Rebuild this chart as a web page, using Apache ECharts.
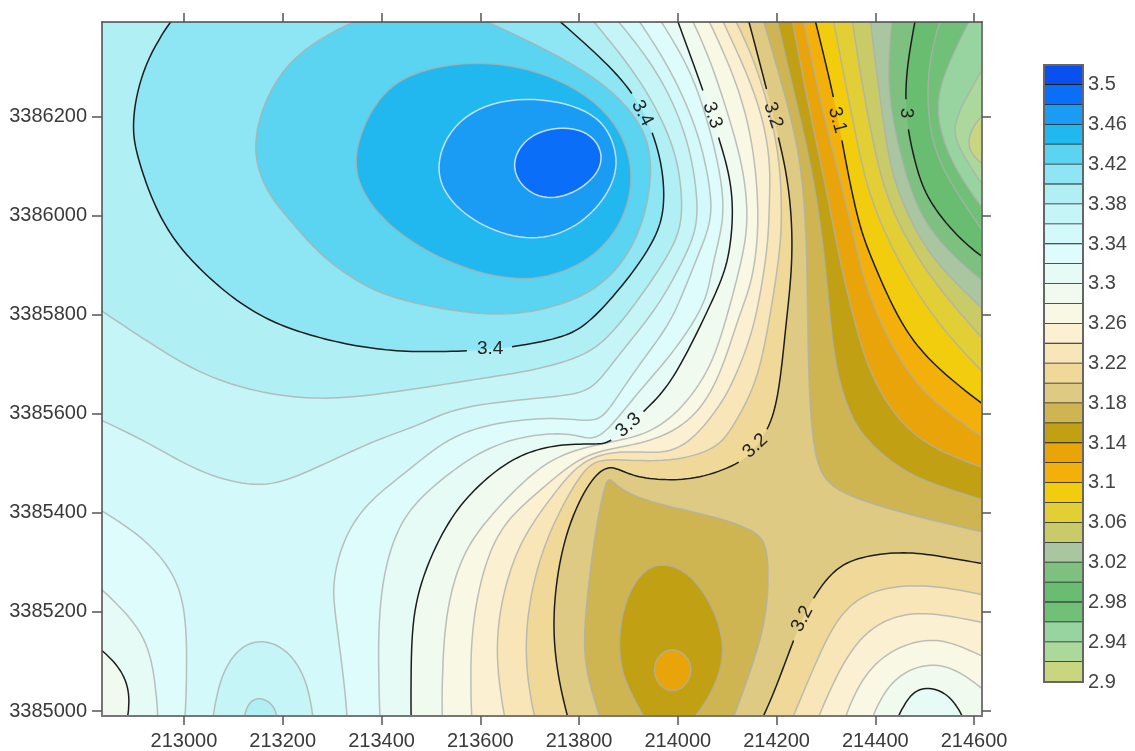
<!DOCTYPE html>
<html>
<head>
<meta charset="utf-8">
<style>html,body{margin:0;padding:0;background:#fff}#c{width:1135px;height:751px}</style>
<script src="https://cdn.jsdelivr.net/npm/echarts@6/dist/echarts.min.js"></script>
</head>
<body>
<div id="c"></div>
<script>
// Axis ticks
const xTicks=[213000,213200,213400,213600,213800,214000,214200,214400,214600];
const yTicks=[3385000,3385200,3385400,3385600,3385800,3386000,3386200];
const legendTicks=[2.9,2.94,2.98,3.02,3.06,3.1,3.14,3.18,3.22,3.26,3.3,3.34,3.38,3.42,3.46,3.5];
// Colour bands: top band first, each 0.02 wide, starting at 3.50
const bandColors=['#0a50f0','#0a6ef8','#1a9cf4','#20b8ee','#5ad4f0','#8ee6f4','#b0eff4','#c6f5f8','#d4f9fb','#defcfb','#e6fbf6','#f0faee','#f8f8e4','#fbf0d2','#f8e6b8','#f0d998','#dfca84','#cfb551','#c2a014','#e8a408','#f4b00a','#f2cd0d','#e2cf35','#c8cb68','#aac6a0','#7dc080','#68bd70','#70c078','#98d4a0','#acd89c','#cad580'];
// Contour lines, easting/northing
const ne318=[[214173,3386395],[214214,3386254],[214242,3386143],[214256,3386032],[214262,3385896],[214264,3385695],[214274,3385527],[214299,3385466],[214349,3385432],[214485,3385392],[214620,3385361]];
const ne316=[[214201,3386395],[214234,3386254],[214260,3386143],[214282,3386032],[214303,3385864],[214315,3385715],[214343,3385614],[214376,3385553],[214445,3385493],[214511,3385460],[214620,3385426]];
const ne314=[[214232,3386395],[214258,3386254],[214284,3386133],[214305,3386032],[214329,3385905],[214364,3385763],[214396,3385668],[214457,3385573],[214538,3385521],[214620,3385491]];
const ne312=[[214254,3386395],[214284,3386254],[214313,3386133],[214339,3386032],[214364,3385925],[214390,3385830],[214445,3385715],[214511,3385628],[214620,3385551]];
const ne310=[[214278,3386395],[214315,3386244],[214333,3386147],[214364,3385991],[214390,3385921],[214445,3385793],[214511,3385703],[214620,3385618]];
const ne308=[[214315,3386395],[214341,3386260],[214364,3386147],[214390,3386032],[214451,3385900],[214528,3385779],[214620,3385682]];
const ne306=[[214353,3386395],[214374,3386260],[214396,3386147],[214424,3386032],[214481,3385921],[214548,3385830],[214620,3385749]];
const ne304=[[214390,3386395],[214400,3386308],[214416,3386193],[214430,3386102],[214453,3386032],[214491,3385951],[214546,3385880],[214620,3385810]];
const ne302=[[214434,3386395],[214426,3386308],[214430,3386228],[214445,3386147],[214477,3386032],[214517,3385965],[214562,3385915],[214620,3385866]];
const ne300=[[214481,3386395],[214465,3386308],[214461,3386234],[214467,3386167],[214485,3386092],[214507,3386032],[214566,3385957],[214620,3385915]];
const ne298=[[214532,3386395],[214507,3386308],[214507,3386193],[214528,3386112],[214568,3386042],[214620,3385965]];
const ne296=[[214592,3386395],[214532,3386274],[214526,3386193],[214558,3386098],[214620,3386012]];
const ne294=[[214620,3386300],[214562,3386199],[214562,3386147],[214620,3386058]];
const ne292=[[214620,3386207],[214596,3386177],[214588,3386147],[214596,3386123],[214620,3386102]];
const bas318=[[213843,3384985],[213819,3385063],[213808,3385143],[213823,3385285],[213837,3385386],[213857,3385472],[213869,3385460],[213924,3385426],[214045,3385400],[214141,3385371],[214173,3385345],[214183,3385305],[214181,3385198],[214153,3385097],[214112,3384985]];
const bas316=[[213934,3384985],[213898,3385048],[213879,3385117],[213889,3385210],[213924,3385279],[213970,3385299],[214019,3385279],[214060,3385230],[214090,3385157],[214090,3385089],[214060,3385022],[214031,3384985]];
const bas314=[[213989,3385127],[214017,3385113],[214029,3385083],[214017,3385052],[213989,3385038],[213962,3385052],[213950,3385083],[213962,3385113]];
const wst320=[[213778,3384985],[213762,3385048],[213748,3385143],[213752,3385250],[213776,3385371],[213823,3385466],[213857,3385493],[213883,3385487],[213918,3385472],[213985,3385466],[214051,3385472],[214131,3385503],[214157,3385533],[214181,3385567],[214201,3385622],[214214,3385729],[214222,3385810],[214234,3385931],[214224,3386068],[214203,3386159],[214183,3386244],[214143,3386395]];
const wst322=[[213711,3384985],[213691,3385089],[213697,3385210],[213727,3385331],[213776,3385432],[213816,3385493],[213857,3385511],[213970,3385501],[214072,3385527],[214106,3385567],[214153,3385648],[214175,3385735],[214191,3385824],[214207,3385931],[214210,3386001],[214207,3386102],[214187,3386209],[214153,3386318],[214116,3386395]];
const wst324=[[213650,3384985],[213634,3385083],[213636,3385184],[213660,3385285],[213695,3385365],[213756,3385446],[213808,3385507],[213883,3385525],[213950,3385521],[214019,3385533],[214086,3385620],[214106,3385654],[214147,3385749],[214167,3385844],[214183,3385945],[214185,3386032],[214187,3386112],[214167,3386217],[214126,3386318],[214090,3386395]];
const wst326=[[213583,3384985],[213579,3385129],[213600,3385264],[213640,3385371],[213707,3385432],[213776,3385493],[213829,3385521],[213883,3385533],[213950,3385547],[214031,3385588],[214086,3385678],[214120,3385789],[214147,3385856],[214159,3385931],[214163,3386001],[214157,3386102],[214137,3386213],[214100,3386314],[214062,3386395]];
const wst328=[[213523,3384985],[213525,3385178],[213559,3385299],[213596,3385365],[213675,3385452],[213742,3385507],[213808,3385531],[213883,3385547],[213944,3385563],[214005,3385608],[214056,3385678],[214086,3385749],[214122,3385880],[214137,3385951],[214141,3386012],[214131,3386102],[214102,3386203],[214066,3386314],[214029,3386395]];
const wst330=[[213460,3384985],[213460,3385129],[213472,3385244],[213525,3385365],[213573,3385432],[213640,3385493],[213707,3385527],[213776,3385539],[213843,3385539],[213869,3385547],[213934,3385608],[213979,3385654],[214025,3385735],[214080,3385850],[214102,3385911],[214112,3385997],[214106,3386078],[214082,3386159],[214056,3386240],[213999,3386395]];
const wst332=[[213397,3384985],[213393,3385129],[213401,3385264],[213438,3385386],[213504,3385452],[213573,3385507],[213654,3385547],[213742,3385561],[213802,3385557],[213843,3385547],[213910,3385634],[213979,3385709],[214039,3385795],[214062,3385850],[214072,3385911],[214092,3385985],[214090,3386058],[214072,3386147],[214045,3386240],[214011,3386320],[213964,3386395]];
const wst334=[[213330,3384985],[213326,3385048],[213306,3385198],[213302,3385258],[213322,3385345],[213371,3385420],[213438,3385472],[213504,3385527],[213573,3385567],[213675,3385588],[213776,3385592],[213837,3385583],[213869,3385622],[213924,3385703],[213979,3385775],[214009,3385840],[214045,3385931],[214070,3385997],[214062,3386072],[214045,3386153],[214011,3386240],[213970,3386320],[213920,3386395]];
const wst336=[[212830,3385588],[212931,3385541],[213032,3385481],[213134,3385456],[213201,3385462],[213302,3385507],[213403,3385553],[213478,3385577],[213539,3385608],[213640,3385624],[213742,3385634],[213802,3385642],[213837,3385662],[213877,3385715],[213938,3385789],[213979,3385850],[214021,3385931],[214041,3385991],[214035,3386072],[214019,3386153],[213985,3386240],[213938,3386320],[213877,3386395]];
const wst338=[[212830,3385810],[212931,3385743],[213032,3385682],[213134,3385648],[213235,3385632],[213336,3385632],[213478,3385652],[213606,3385672],[213707,3385688],[213796,3385713],[213857,3385749],[213934,3385850],[213991,3385937],[214009,3385997],[214005,3386072],[213989,3386147],[213944,3386240],[213889,3386320],[213827,3386395]];
const wst340=[[212976,3386395],[212919,3386308],[212895,3386193],[212903,3386133],[212919,3386078],[212943,3386016],[212976,3385957],[213016,3385909],[213063,3385864],[213113,3385824],[213172,3385789],[213235,3385765],[213316,3385743],[213403,3385729],[213478,3385725],[213583,3385727],[213620,3385731],[213665,3385735],[213764,3385753],[213808,3385777],[213845,3385810],[213902,3385876],[213950,3385947],[213972,3386007],[213970,3386088],[213950,3386167],[213910,3386248],[213843,3386320],[213758,3386395]];
const wst342=[[213353,3386395],[213243,3386341],[213172,3386254],[213140,3386147],[213156,3386078],[213180,3386032],[213215,3385991],[213261,3385937],[213316,3385890],[213383,3385850],[213460,3385824],[213628,3385795],[213750,3385816],[213845,3385856],[213916,3385945],[213944,3386052],[213944,3386127],[213924,3386187],[213859,3386260],[213750,3386328],[213606,3386395]];
const wst344=[[213340,3386119],[213367,3386038],[213425,3385971],[213533,3385905],[213652,3385872],[213735,3385876],[213823,3385911],[213887,3385985],[213910,3386078],[213887,3386167],[213823,3386240],[213713,3386294],[213583,3386312],[213460,3386288],[213389,3386234]];
const wst346=[[213509,3386106],[213533,3386038],[213592,3385985],[213693,3385949],[213786,3385971],[213851,3386032],[213879,3386098],[213865,3386159],[213823,3386213],[213693,3386242],[213561,3386207]];
const wst348=[[213764,3386179],[213823,3386167],[213851,3386117],[213823,3386066],[213750,3386030],[213689,3386052],[213662,3386106],[213699,3386163]];
const se320=[[214171,3384985],[214197,3385042],[214234,3385143],[214252,3385184],[214272,3385224],[214315,3385285],[214370,3385311],[214451,3385321],[214517,3385315],[214620,3385297]];
const se322=[[214232,3384985],[214282,3385103],[214329,3385198],[214396,3385244],[214477,3385254],[214552,3385248],[214620,3385234]];
const se324=[[214284,3384985],[214329,3385089],[214384,3385164],[214451,3385194],[214517,3385198],[214620,3385178]];
const se326=[[214339,3384985],[214370,3385063],[214430,3385123],[214505,3385145],[214558,3385137],[214620,3385109]];
const se328=[[214394,3384985],[214430,3385063],[214505,3385097],[214566,3385083],[214620,3385042]];
const se330=[[214445,3384985],[214471,3385036],[214507,3385048],[214552,3385032],[214578,3384985]];
const sw334=[[212830,3385406],[212917,3385351],[212978,3385279],[213008,3385184],[213002,3384985]];
const sw332=[[212830,3385248],[212897,3385184],[212937,3385109],[212947,3384985]];
const sw330=[[212830,3385125],[212870,3385089],[212891,3385036],[212885,3384985]];
const is336=[[213059,3384985],[213073,3385069],[213113,3385129],[213160,3385143],[213209,3385123],[213249,3385063],[213261,3384985]];
const is338=[[213122,3384985],[213130,3385018],[213158,3385028],[213184,3385008],[213188,3384985]];
// Corners outside the frame used to close an open contour into a filled region
const outNE=[[214700,3386500]], outSE=[[214700,3384900]], outSW=[[212700,3384900]], outNW=[[212700,3386500]];
const outW=[[212700,3386500],[212700,3384900]];
// Paint order: [points, level, side(+1 fills band above the level, -1 band below), closing corners, closed ring]
const layers=[
 [ne318,3.18,-1,outNE],[ne316,3.16,-1,outNE],[ne314,3.14,-1,outNE],[ne312,3.12,-1,outNE],[ne310,3.10,-1,outNE],
 [ne308,3.08,-1,outNE],[ne306,3.06,-1,outNE],[ne304,3.04,-1,outNE],[ne302,3.02,-1,outNE],[ne300,3.00,-1,outNE],
 [ne298,2.98,-1,outNE],[ne296,2.96,-1,outNE],[ne294,2.94,-1,[]],[ne292,2.92,-1,[]],
 [bas318,3.18,-1,[]],[bas316,3.16,-1,[]],[bas314,3.14,-1,[],true],
 [se320,3.20,1,outSE],[se322,3.22,1,outSE],[se324,3.24,1,outSE],[se326,3.26,1,outSE],[se328,3.28,1,outSE],[se330,3.30,1,[]],
 [wst320,3.20,1,outW],[wst322,3.22,1,outW],[wst324,3.24,1,outW],[wst326,3.26,1,outW],[wst328,3.28,1,outW],
 [wst330,3.30,1,outW],[wst332,3.32,1,outW],[wst334,3.34,1,outW],
 [sw334,3.34,-1,outSW],[sw332,3.32,-1,outSW],[sw330,3.30,-1,outSW],
 [is336,3.36,1,[]],[is338,3.38,1,[]],
 [wst336,3.36,1,outNW],[wst338,3.38,1,outNW],[wst340,3.40,1,[]],[wst342,3.42,1,[]],
 [wst344,3.44,1,[],true],[wst346,3.46,1,[],true],[wst348,3.48,1,[],true]
];
// Contour labels
const labelTexts=['3.4','3.4','3.3','3.2','3.1','3','3.3','3.2','3.2'];
const labelX=[213620,213928,214070,214193,214323,214463,213900,214157,214252];
const labelY=[3385731,3386207,3386203,3386203,3386193,3386207,3385577,3385535,3385186];
const labelAngles=[0,-62,-70,-72,-75,-90,42,43,62];
const labelGap=[20,20,20,20,20,13,20,20,20];

const XMIN=212834,XMAX=214616,YMIN=3384990,YMAX=3386391;
const bandIndex=lo=>Math.round((3.5-lo)/0.02);
function spline(p,closed){
  const n=p.length,out=[],seg=closed?n:n-1;
  const at=i=>closed?p[(i+n)%n]:p[Math.max(0,Math.min(n-1,i))];
  for(let i=0;i<seg;i++){
    const a=at(i-1),b=at(i),c=at(i+1),d=at(i+2);
    for(let k=0;k<8;k++){
      const t=k/8,t2=t*t,t3=t2*t;
      out.push([0,1].map(j=>0.5*(2*b[j]+(c[j]-a[j])*t+(2*a[j]-5*b[j]+4*c[j]-d[j])*t2+(3*b[j]-a[j]-3*c[j]+d[j])*t3)));
    }
  }
  if(!closed)out.push(p[n-1]);
  return out;
}
function soften(q,closed,w){
  const n=q.length;
  return q.map((_,i)=>{
    const r=closed?w:Math.min(w,i,n-1-i);
    let sx=0,sy=0;
    for(let k=-r;k<=r;k++){const s=q[(i+k+n)%n];sx+=s[0];sy+=s[1];}
    return [sx/(2*r+1),sy/(2*r+1)];
  });
}
function renderContour(params,api){
  const [pts,level,side,extra,closed]=layers[params.dataIndex];
  const px=pts.map(q=>api.coord(q));
  let dense=soften(soften(spline(px,!!closed),!!closed,4),!!closed,4);
  if(closed)dense=dense.concat([dense[0]]);
  const ring=dense.concat(extra.map(q=>api.coord(q)));
  const lo=side>0?level:level-0.02;
  const black=Math.abs(level*10-Math.round(level*10))<1e-6;
  const children=[{type:'polygon',shape:{points:ring},style:{fill:bandColors[bandIndex(lo)],stroke:null}}];
  let pieces=[dense];
  if(black){
    const marks=labelX.map((x,i)=>{const c=api.coord([x,labelY[i]]);return [c[0],c[1],labelGap[i]];});
    pieces=[];let cur=[];
    dense.forEach(q=>{
      const hit=marks.some(m=>Math.hypot(q[0]-m[0],q[1]-m[1])<m[2]);
      if(hit){if(cur.length>1)pieces.push(cur);cur=[];}else cur.push(q);
    });
    if(cur.length>1)pieces.push(cur);
  }
  const stroke=black?'#1c1c1c':(level>=3.46?'rgba(205,228,242,0.95)':'rgba(172,176,172,0.8)');
  pieces.forEach(s=>children.push({type:'polyline',shape:{points:s},style:{fill:null,stroke,lineWidth:1.5}}));
  return {type:'group',children};
}
function renderLabel(params,api){
  const i=params.dataIndex,c=api.coord([labelX[i],labelY[i]]);
  return {type:'text',x:c[0],y:c[1],rotation:labelAngles[i]*Math.PI/180,
    style:{text:labelTexts[i],fill:'#222',font:'19px "Liberation Sans"',align:'center',verticalAlign:'middle'}};
}
const legendRows=bandColors.map((col,i)=>[3.5-i*0.02,3.52-i*0.02,i]);
function renderLegend(params,api){
  const r=legendRows[params.dataIndex];
  const a=api.coord([0,r[1]]),b=api.coord([1,r[0]]);
  const kids=[{type:'rect',shape:{x:a[0],y:a[1],width:b[0]-a[0],height:b[1]-a[1]},style:{fill:bandColors[r[2]]}}];
  if(r[2]<bandColors.length-1)kids.push({type:'line',shape:{x1:a[0],y1:b[1],x2:b[0],y2:b[1]},style:{stroke:'#1c1c1c',lineWidth:1.6}});
  return {type:'group',children:kids};
}
function renderLegendFrame(params,api){
  const a=api.coord([0,3.52]),b=api.coord([1,2.9]);
  return {type:'rect',shape:{x:a[0],y:a[1],width:b[0]-a[0],height:b[1]-a[1]},style:{fill:null,stroke:'#666',lineWidth:2}};
}
const axisLine={show:true,onZero:false,lineStyle:{color:'#4a4a4a',width:1.5}};
const tickStyle=(vals,len)=>({show:true,length:len,customValues:vals,lineStyle:{color:'#555',width:1.5}});
const labelFont={fontFamily:'"Liberation Sans"',fontSize:20,color:'#3a3a3a'};
const chart=echarts.init(document.getElementById('c'),null,{renderer:'canvas'});
chart.setOption({
  animation:false,
  backgroundColor:'#fff',
  grid:[
    {left:102,top:22,width:880,height:694,show:true,backgroundColor:bandColors[bandIndex(3.18)],borderWidth:0,containLabel:false},
    {left:1044,top:65,width:39,height:617,containLabel:false}
  ],
  xAxis:[
    {type:'value',gridIndex:0,min:XMIN,max:XMAX,position:'bottom',z:5,splitLine:{show:false},axisLine:{...axisLine,lineStyle:{color:'#777',width:2}},axisTick:tickStyle(xTicks,9),
     axisLabel:{...labelFont,margin:15,customValues:xTicks,formatter:v=>String(v)}},
    {type:'value',gridIndex:0,min:XMIN,max:XMAX,position:'top',z:5,splitLine:{show:false},axisLine:axisLine,axisTick:tickStyle(xTicks,9),axisLabel:{show:false}},
    {type:'value',gridIndex:1,min:0,max:1,show:false}
  ],
  yAxis:[
    {type:'value',gridIndex:0,min:YMIN,max:YMAX,position:'left',z:5,splitLine:{show:false},axisLine:axisLine,axisTick:tickStyle(yTicks,10),
     axisLabel:{...labelFont,margin:15,customValues:yTicks,formatter:v=>String(v)}},
    {type:'value',gridIndex:0,min:YMIN,max:YMAX,position:'right',z:5,splitLine:{show:false},axisLine:{...axisLine,lineStyle:{color:'#777',width:2}},axisTick:tickStyle(yTicks,9),axisLabel:{show:false}},
    {type:'value',gridIndex:1,min:2.9,max:3.52,position:'right',splitLine:{show:false},axisLine:{show:false},axisTick:{show:false},
     axisLabel:{...labelFont,color:'#444',margin:5,padding:[2,0,0,0],customValues:legendTicks,formatter:v=>String(v)}}
  ],
  series:[
    {type:'custom',xAxisIndex:0,yAxisIndex:0,clip:true,silent:true,renderItem:renderContour,z:2,
     data:layers.map((l,i)=>[l[0][0][0],l[0][0][1],i])},
    {type:'custom',xAxisIndex:0,yAxisIndex:0,clip:true,silent:true,renderItem:renderLabel,z:3,
     data:labelTexts.map((t,i)=>[labelX[i],labelY[i],t])},
    {type:'custom',xAxisIndex:2,yAxisIndex:2,silent:true,renderItem:renderLegend,z:2,
     data:legendRows.map(r=>[0.5,r[0],r[1]])},
    {type:'custom',xAxisIndex:2,yAxisIndex:2,silent:true,renderItem:renderLegendFrame,z:3,
     data:[[0.5,3.2]]}
  ]
});
</script>
</body>
</html>
